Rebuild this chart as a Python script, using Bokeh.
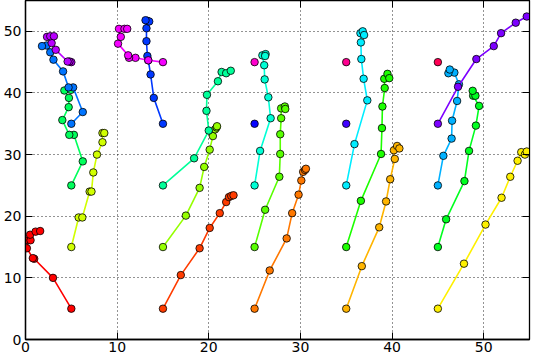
import numpy as np
from bokeh.plotting import figure
from bokeh.models import LinearAxis, FixedTicker, Range1d
from bokeh.embed import file_html
from bokeh.resources import INLINE

# ---- data: 25 trajectories, starting on a 5x5 grid ----
path_x_0 = [5, 3.0, 0.95, 0.8, 0.15, 0.3, 0.55, 0.5, 1.1, 1.6]
path_y_0 = [5, 10.0, 13.1, 13.2, 14.8, 16.1, 16.1, 17.0, 17.5, 17.6]
path_x_1 = [15, 16.95, 19.0, 20.1, 21.2, 21.9, 22.2, 22.45, 22.7]
path_y_1 = [5, 10.45, 14.8, 18.1, 20.5, 22.3, 23.1, 23.3, 23.4]
path_x_2 = [25, 26.65, 28.5, 29.1, 29.8, 30.1, 30.3, 30.5, 30.6]
path_y_2 = [5, 11.2, 16.4, 20.5, 23.5, 25.8, 27.2, 27.5, 27.7]
path_x_3 = [35, 36.7, 38.6, 39.35, 39.8, 40.3, 40.2, 40.55, 40.8]
path_y_3 = [5, 11.9, 18.2, 22.4, 26.0, 29.3, 30.7, 31.4, 31.0]
path_x_4 = [45, 47.85, 50.2, 51.95, 52.9, 53.7, 54.1, 54.5, 54.7]
path_y_4 = [5, 12.3, 18.65, 23.0, 26.4, 29.0, 30.4, 30.0, 30.5]

path_x_5 = [5, 5.8, 6.2, 7.0, 7.2, 7.4, 7.8, 8.4, 8.4, 8.6]
path_y_5 = [15, 19.8, 19.8, 24.0, 24.0, 27.1, 30.0, 32.0, 33.5, 33.5]
path_x_6 = [15, 17.5, 19.0, 19.5, 20.1, 20.45, 20.7, 20.85, 20.9]
path_y_6 = [15, 20.1, 24.6, 28.0, 30.8, 33.0, 34.1, 34.4, 34.6]
path_x_7 = [25, 26.15, 27.7, 27.8, 27.8, 27.9, 27.9, 28.3, 28.35]
path_y_7 = [15, 21.05, 26.4, 30.1, 33.3, 35.9, 37.5, 37.8, 37.4]
path_x_8 = [35, 36.6, 38.8, 38.9, 38.95, 39.2, 39.15, 39.5, 39.7]
path_y_8 = [15, 22.5, 30.1, 34.3, 37.8, 40.8, 42.3, 43.1, 42.4]
path_x_9 = [45, 45.9, 47.9, 48.4, 49.15, 49.5, 48.85, 49.1, 48.8]
path_y_9 = [15, 19.5, 25.7, 30.6, 34.7, 37.9, 39.55, 39.55, 40.35]

path_x_10 = [5, 6.25, 5.28, 4.78, 4.02, 4.71, 4.74, 4.24, 4.96]
path_y_10 = [25, 28.9, 33.2, 33.2, 35.6, 37.7, 39.2, 40.4, 40.5]
path_x_11 = [15, 18.4, 20.0, 19.75, 19.8, 21.0, 21.4, 21.9, 22.4]
path_y_11 = [25, 29.4, 33.9, 37.1, 39.7, 41.9, 43.4, 43.2, 43.6]
path_x_12 = [25, 25.6, 26.75, 26.5, 26.1, 26.05, 25.85, 26.2, 26.15]
path_y_12 = [25, 30.6, 35.9, 39.3, 42.2, 44.5, 46.1, 46.3, 46.0]
path_x_13 = [35, 35.9, 37.3, 36.9, 36.65, 36.6, 36.55, 36.8, 36.95]
path_y_13 = [25, 31.7, 38.8, 42.3, 45.5, 48.2, 49.7, 50.0, 49.4]
path_x_14 = [45, 45.6, 46.5, 46.55, 47.1, 47.3, 46.8, 46.15, 46.3]
path_y_14 = [25, 29.8, 32.6, 35.5, 38.7, 41.4, 43.3, 43.2, 43.8]

path_x_15 = [5, 6.25, 5.2, 4.7, 4.1, 3.05, 2.7, 2.3, 1.8]
path_y_15 = [35, 36.9, 40.9, 40.9, 43.5, 45.4, 46.6, 47.7, 47.6]
path_x_16 = [15, 14.0, 13.65, 13.4, 13.3, 13.2, 13.2, 13.3, 13.5, 13.1]
path_y_16 = [35, 39.2, 43.0, 45.3, 46.0, 48.4, 50.5, 51.7, 51.6, 51.8]
path_x_17 = [25]
path_y_17 = [35]
path_x_18 = [35]
path_y_18 = [35]
path_x_19 = [45, 47.2, 49.2, 51.1, 51.9, 53.5, 54.7]
path_y_19 = [35, 41.0, 45.5, 47.6, 49.7, 51.4, 52.4]

path_x_20 = [5, 4.8, 4.6, 3.3, 2.85, 2.35, 2.7, 3.1]
path_y_20 = [45, 45.1, 45.1, 47.0, 48.1, 49.1, 49.2, 49.2]
path_x_21 = [15, 13.4, 12.0, 11.3, 11.2, 10.1, 10.4, 10.2, 10.8, 11.1]
path_y_21 = [45, 45.3, 45.7, 45.7, 46.1, 48.0, 49.1, 50.4, 50.4, 50.4]
path_x_22 = [25]
path_y_22 = [45]
path_x_23 = [35]
path_y_23 = [45]
path_x_24 = [45]
path_y_24 = [45]

x_ticks = [0, 10, 20, 30, 40, 50]
y_ticks = [0, 10, 20, 30, 40, 50]

paths_x = [path_x_0, path_x_1, path_x_2, path_x_3, path_x_4,
           path_x_5, path_x_6, path_x_7, path_x_8, path_x_9,
           path_x_10, path_x_11, path_x_12, path_x_13, path_x_14,
           path_x_15, path_x_16, path_x_17, path_x_18, path_x_19,
           path_x_20, path_x_21, path_x_22, path_x_23, path_x_24]
paths_y = [path_y_0, path_y_1, path_y_2, path_y_3, path_y_4,
           path_y_5, path_y_6, path_y_7, path_y_8, path_y_9,
           path_y_10, path_y_11, path_y_12, path_y_13, path_y_14,
           path_y_15, path_y_16, path_y_17, path_y_18, path_y_19,
           path_y_20, path_y_21, path_y_22, path_y_23, path_y_24]

# matplotlib 'hsv' colormap
_R = ([0, 0.158730, 0.174603, 0.333333, 0.349206, 0.666667, 0.682540, 0.841270, 0.857143, 1.0],
      [1, 1, 0.96875, 0.03125, 0, 0, 0.03125, 0.96875, 1, 1])
_G = ([0, 0.158730, 0.174603, 0.507937, 0.666667, 0.682540, 1.0],
      [0, 0.9375, 1, 1, 0.0625, 0, 0])
_B = ([0, 0.333333, 0.349206, 0.507937, 0.841270, 0.857143, 1.0],
      [0, 0, 0.0625, 1, 1, 0.9375, 0.09375])


def hsv_cmap(t):
    r = np.interp(t, *_R)
    g = np.interp(t, *_G)
    b = np.interp(t, *_B)
    return "#%02x%02x%02x" % (int(round(r * 255)), int(round(g * 255)), int(round(b * 255)))


p = figure(width=531, height=354, output_backend="svg", toolbar_location=None,
           x_range=Range1d(0, 55), y_range=Range1d(0, 55),
           min_border_left=0, min_border_right=2, min_border_top=0, min_border_bottom=0)
p.background_fill_color = "white"
p.border_fill_color = "white"
p.outline_line_color = "black"
p.outline_line_width = 1.3

FONT = "DejaVu Sans"
for ax in [p.xaxis[0], p.yaxis[0]]:
    ax.major_label_text_font = FONT
    ax.major_label_text_font_size = "14px"
    ax.major_label_text_color = "black"
    ax.major_tick_in = 7
    ax.major_tick_out = 0
    ax.minor_tick_line_color = None
    ax.major_tick_line_color = "black"
    ax.axis_line_color = "black"
    ax.axis_line_width = 1.3
p.xaxis[0].major_label_standoff = 2
p.yaxis[0].major_label_standoff = 4
p.xaxis[0].ticker = FixedTicker(ticks=x_ticks)
p.yaxis[0].ticker = FixedTicker(ticks=y_ticks)

for loc, ticks in [("above", x_ticks), ("right", y_ticks)]:
    ax = LinearAxis(ticker=FixedTicker(ticks=ticks))
    ax.major_label_text_font_size = "0px"
    ax.major_label_standoff = 0
    ax.major_tick_in = 7
    ax.major_tick_out = 0
    ax.minor_tick_line_color = None
    ax.major_tick_line_color = "black"
    ax.axis_line_color = "black"
    ax.major_label_overrides = {t: "" for t in ticks}
    p.add_layout(ax, loc)

p.xgrid.ticker = FixedTicker(ticks=x_ticks)
p.ygrid.ticker = FixedTicker(ticks=y_ticks)
for g in [p.xgrid[0], p.ygrid[0]]:
    g.grid_line_color = "black"
    g.grid_line_dash = "1 3"
    g.grid_line_width = 1
    g.grid_line_alpha = 0.85

n = len(paths_x)
for k in range(n):
    c = hsv_cmap(k / n)
    xs, ys = paths_x[k], paths_y[k]
    if len(xs) > 1:
        p.line(xs, ys, line_color=c, line_width=1.6)
    p.scatter(xs, ys, size=7.5, fill_color=c, line_color="black", line_width=0.8)

open("out.html", "w").write(file_html(p, INLINE))
